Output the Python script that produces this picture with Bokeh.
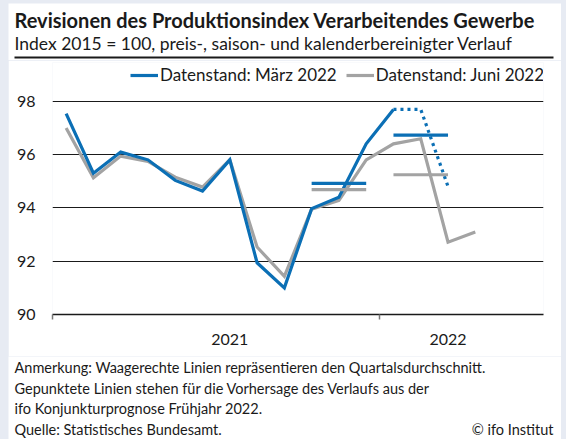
from bokeh.plotting import figure
from bokeh.layouts import column
from bokeh.models import Range1d, FixedTicker, Legend, LegendItem
from bokeh.core.properties import value
from bokeh.embed import file_html
from bokeh.resources import INLINE

# ---------------- data ----------------
months = ["Jan 2021", "Feb 2021", "Mär 2021", "Apr 2021", "Mai 2021", "Jun 2021",
          "Jul 2021", "Aug 2021", "Sep 2021", "Okt 2021", "Nov 2021", "Dez 2021",
          "Jan 2022", "Feb 2022", "Mär 2022", "Apr 2022"]
maerz_2022 = [97.53, 95.30, 96.09, 95.80, 95.03, 94.63, 95.80, 91.94, 91.00,
              93.97, 94.40, 96.40, 97.69]
prognose_months = ["Jan 2022", "Feb 2022", "Mär 2022"]
prognose_2022 = [97.69, 97.69, 94.80]
juni_2022 = [96.99, 95.13, 95.94, 95.74, 95.15, 94.78, 95.80, 92.53, 91.43,
             93.95, 94.28, 95.80, 96.40, 96.59, 92.71, 93.09]
quarters = ["Q4 2021", "Q1 2022"]
quarter_first = ["Okt 2021", "Jan 2022"]
quarter_last = ["Dez 2021", "Mär 2022"]
q_avg_maerz = [94.92, 96.73]
q_avg_juni = [94.68, 95.24]
year_labels = ["2021", "2022"]
year_label_month = ["Jul 2021", "Mär 2022"]
year_starts = ["Jan 2021", "Jan 2022"]
y_ticks = [90, 92, 94, 96, 98]

title = "Revisionen des Produktionsindex Verarbeitendes Gewerbe"
subtitle = "Index 2015 = 100, preis-, saison- und kalenderbereinigter Verlauf"
legend_labels = ["Datenstand: März 2022", "Datenstand: Juni 2022"]
notes = ["Anmerkung: Waagerechte Linien repräsentieren den Quartalsdurchschnitt.",
         "Gepunktete Linien stehen für die Vorhersage  des Verlaufs aus der",
         "ifo Konjunkturprognose Frühjahr 2022.",
         "Quelle: Statistisches Bundesamt."]
copyright_note = "© ifo Institut"

BLUE = "#0b6fb5"
GREY = "#a3a3a3"
INK = "#1a1a1a"
FONT = "Lato"
W = 553


def pos(m):
    return months.index(m) + 0.5


def blank(fig):
    fig.axis.visible = False
    fig.grid.visible = False
    fig.outline_line_color = None
    fig.min_border = 0
    fig.min_border_left = 0
    fig.min_border_right = 0
    fig.min_border_top = 0
    fig.min_border_bottom = 0
    fig.background_fill_color = "white"
    fig.border_fill_color = "white"
    fig.frame_align = False


# ---------------- header ----------------
HH = 57
head = figure(width=W, height=HH, output_backend="svg", toolbar_location=None,
              x_range=Range1d(0, W), y_range=Range1d(HH, 0))
blank(head)
head.text(x=[6], y=[16], text=[title], text_font=value(FONT), text_font_size="20px",
          text_font_style="bold", text_baseline="middle", text_color=INK)
head.text(x=[6], y=[39.5], text=[subtitle], text_font=value(FONT), text_font_size="17.5px",
          text_baseline="middle", text_color=INK)
head.line(x=[6, 545], y=[54, 54], line_color=INK, line_width=2)

# ---------------- main chart ----------------
x_all = [pos(m) for m in months]
p = figure(width=W, height=296, output_backend="svg", toolbar_location=None,
           x_range=Range1d(0, 18), y_range=Range1d(90, 99.45),
           min_border_left=44, min_border_right=18, min_border_top=2,
           min_border_bottom=42)
p.frame_align = False
p.outline_line_color = None
p.background_fill_color = "white"
p.border_fill_color = "white"

p.xgrid.visible = False
p.ygrid.ticker = FixedTicker(ticks=[t for t in y_ticks if t > 90])
p.ygrid.grid_line_color = INK
p.ygrid.grid_line_width = 1

p.yaxis.ticker = FixedTicker(ticks=y_ticks)
p.yaxis.axis_line_color = None
p.yaxis.major_tick_line_color = None
p.yaxis.major_tick_out = 0
p.yaxis.major_tick_in = 0
p.yaxis.minor_tick_line_color = None
p.yaxis.major_label_standoff = 17
p.yaxis.major_label_text_font = FONT
p.yaxis.major_label_text_font_size = "16px"
p.yaxis.major_label_text_color = INK

p.xaxis.ticker = FixedTicker(ticks=[pos(m) for m in year_label_month],
                             minor_ticks=[months.index(m) for m in year_starts])
p.xaxis.major_label_overrides = {pos(m): l for m, l in zip(year_label_month, year_labels)}
p.xaxis.axis_line_color = INK
p.xaxis.axis_line_width = 1.5
p.xaxis.major_tick_line_color = None
p.xaxis.major_tick_out = 0
p.xaxis.major_tick_in = 0
p.xaxis.minor_tick_line_color = "#777777"
p.xaxis.minor_tick_line_width = 1.5
p.xaxis.minor_tick_out = 5
p.xaxis.minor_tick_in = 0
p.xaxis.major_label_standoff = 14
p.xaxis.major_label_text_font = FONT
p.xaxis.major_label_text_font_size = "16px"
p.xaxis.major_label_text_color = INK

r_juni = p.line(x_all, juni_2022, line_color=GREY, line_width=3.2, line_join="miter")
r_maerz = p.line(x_all[:len(maerz_2022)], maerz_2022, line_color=BLUE, line_width=3.2,
                 line_join="miter")
p.line([pos(m) for m in prognose_months], prognose_2022, line_color=BLUE,
       line_width=3.2, line_dash="3 4")

p.segment(x0=[pos(m) for m in quarter_first], x1=[pos(m) for m in quarter_last],
          y0=q_avg_juni, y1=q_avg_juni, line_color=GREY, line_width=3.2)
p.segment(x0=[pos(m) for m in quarter_first], x1=[pos(m) for m in quarter_last],
          y0=q_avg_maerz, y1=q_avg_maerz, line_color=BLUE, line_width=3.2)

legend = Legend(items=[LegendItem(label=legend_labels[0], renderers=[r_maerz]),
                       LegendItem(label=legend_labels[1], renderers=[r_juni])],
                orientation="horizontal", location=(78, 229),
                padding=0, margin=0, spacing=9, label_standoff=2,
                glyph_width=28, glyph_height=20, label_height=20,
                border_line_color=None, background_fill_alpha=0,
                label_text_font=FONT, label_text_font_size="17px",
                label_text_color=INK)
p.add_layout(legend)

# ---------------- footer ----------------
FH = 83
foot = figure(width=W, height=FH, output_backend="svg", toolbar_location=None,
              x_range=Range1d(0, W), y_range=Range1d(FH, 0))
blank(foot)
note_y = [11 + 20.7 * i for i in range(len(notes))]
foot.text(x=[6] * len(notes), y=note_y, text=notes,
          text_font=value(FONT), text_font_size="14.5px", text_baseline="middle",
          text_color=INK)
foot.text(x=[545], y=[note_y[-1]], text=[copyright_note], text_font=value(FONT),
          text_font_size="14.5px", text_baseline="middle", text_align="right",
          text_color=INK)

layout = column(head, p, foot, spacing=0,
                styles={"background-color": "#e7ebf3", "padding-left": "8px",
                        "padding-top": "3px", "padding-right": "5px"})

open("out.html", "w").write(file_html(layout, INLINE))
